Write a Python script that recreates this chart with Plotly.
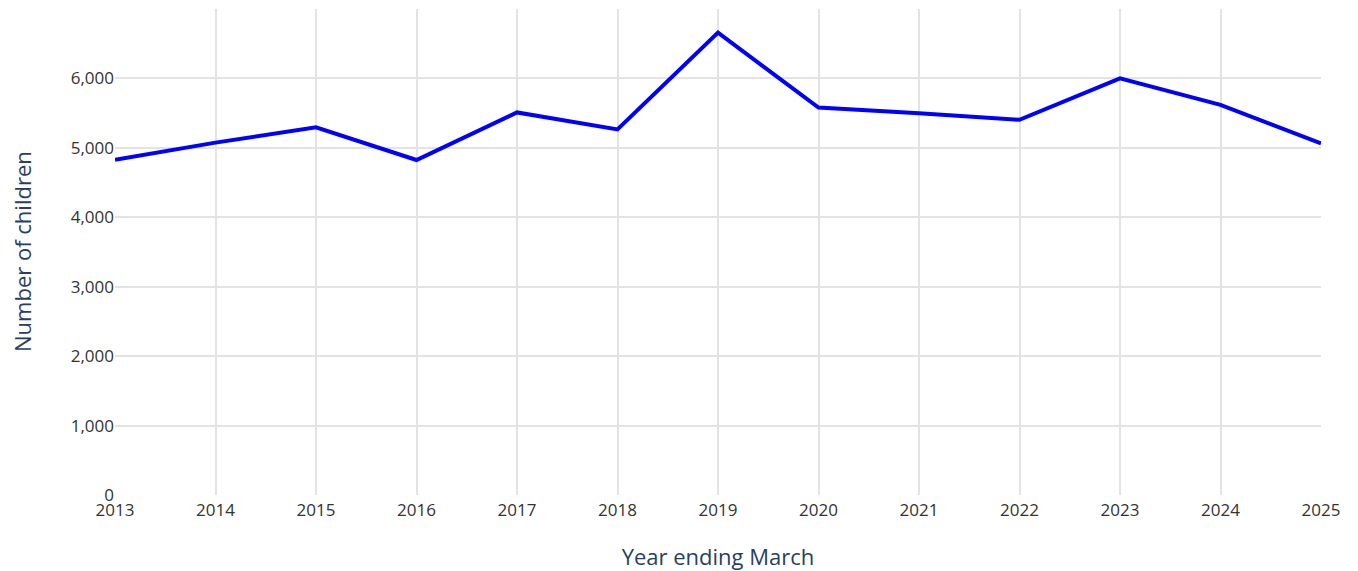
import plotly.graph_objects as go

years = [2013, 2014, 2015, 2016, 2017, 2018, 2019, 2020, 2021, 2022, 2023, 2024, 2025]
children = [4830, 5075, 5295, 4825, 5510, 5265, 6660, 5580, 5500, 5405, 6000, 5620, 5065]

fig = go.Figure(go.Scatter(
    x=years, y=children, mode="lines",
    line=dict(color="#0000FF", width=4),
    hoverinfo="x+y",
))

fig.update_layout(
    width=1358, height=571,
    margin=dict(l=107, r=45, t=1, b=84),
    paper_bgcolor="white", plot_bgcolor="white",
    font=dict(family="Open Sans, sans-serif", size=17, color="#333333"),
    showlegend=False,
)
fig.update_xaxes(
    range=[2013, 2025], tickmode="array", tickvals=years,
    showgrid=True, gridcolor="#e3e3e3", gridwidth=2, zeroline=False,
    showline=False, ticks="", ticklabelstandoff=3,
    title=dict(text="Year ending March", font=dict(size=22, color="#2a3f5f"), standoff=29),
)
fig.update_yaxes(
    range=[0, 7000], tickvals=[0, 1000, 2000, 3000, 4000, 5000, 6000],
    tickformat=",", showgrid=True, gridcolor="#e3e3e3", gridwidth=2,
    zeroline=False, showline=False, ticks="",
)
fig.add_annotation(
    text="Number of children", textangle=-90,
    xref="paper", yref="paper", x=0, y=0.5,
    xanchor="center", yanchor="middle", xshift=-93, showarrow=False,
    font=dict(size=22, color="#2a3f5f"),
)

fig.write_html("out.html")
